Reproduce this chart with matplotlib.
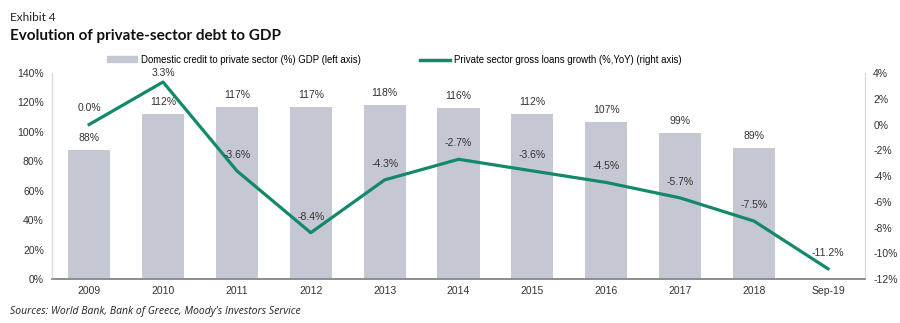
import numpy as np
import matplotlib
matplotlib.use('Agg')
import matplotlib.pyplot as plt
from matplotlib.patches import Patch
from matplotlib.lines import Line2D

# data
years = ['2009', '2010', '2011', '2012', '2013', '2014', '2015', '2016', '2017', '2018', 'Sep-19']
credit_gdp = [88, 112, 117, 117, 118, 116, 112, 107, 99, 89, np.nan]
loans_growth = [0.0, 3.3, -3.6, -8.4, -4.3, -2.7, -3.6, -4.5, -5.7, -7.5, -11.2]

bar_col = '#c5c8d2'
line_col = '#12896a'
txt_col = '#333333'

plt.rcParams['font.family'] = ['Liberation Sans', 'DejaVu Sans']

fig = plt.figure(figsize=(9, 3.23), dpi=100)
ax = fig.add_axes([0.058, 0.136, 0.903, 0.638])
ax2 = ax.twinx()

x = np.arange(len(years))

# bars on the left axis
ax.bar(x, credit_gdp, width=0.57, color=bar_col, zorder=1)
for xi, v in zip(x, credit_gdp):
    if not np.isnan(v):
        ax.annotate('%d%%' % v, (xi, v), xytext=(0, 5), textcoords='offset points',
                    ha='center', va='bottom', fontsize=7.5, color=txt_col)

ax.set_ylim(0, 140)
ax.set_yticks(np.arange(0, 141, 20))
ax.set_yticklabels(['%d%%' % t for t in np.arange(0, 141, 20)])
ax.set_xlim(-0.5, len(years) - 0.5)
ax.set_xticks(x)
ax.set_xticklabels(years)

# line on the right axis
ax2.plot(x, loans_growth, color=line_col, lw=2.3, zorder=3)
for i, (xi, v) in enumerate(zip(x, loans_growth)):
    off = 3 if i == 1 else 8
    ax2.annotate('%.1f%%' % v, (xi, v), xytext=(0, off), textcoords='offset points',
                 ha='center', va='bottom', fontsize=7.5, color=txt_col)
ax2.set_ylim(-12, 4)
ax2.set_yticks(np.arange(-12, 5, 2))
ax2.set_yticklabels(['%d%%' % t for t in np.arange(-12, 5, 2)])

for a in (ax, ax2):
    a.tick_params(length=0, labelsize=7.5, colors=txt_col, pad=6)
    a.spines['top'].set_visible(False)
    a.spines['left'].set_color('#d9d9d9')
    a.spines['right'].set_color('#d9d9d9')
    a.spines['bottom'].set_color('#8c8c8c')
    a.spines['bottom'].set_linewidth(1.2)
ax.tick_params(axis='x', pad=5)

handles = [Patch(color=bar_col), Line2D([0], [0], color=line_col, lw=2.5)]
labels = ['Domestic credit to private sector (%) GDP (left axis)',
          'Private sector gross loans growth (%,YoY) (right axis)']
fig.legend(handles, labels, loc='center', bbox_to_anchor=(0.438, 0.815), ncol=2,
           frameon=False, fontsize=6.9, handlelength=3.1, handleheight=0.55,
           columnspacing=6.2, handletextpad=0.4)

fig.text(0.011, 0.945, 'Exhibit 4', fontsize=8.5, family='Lato', color='#222222', va='center')
fig.text(0.011, 0.89, 'Evolution of private-sector debt to GDP', fontsize=11,
         family='Lato', weight='bold', color='#111111', va='center')
fig.text(0.011, 0.035, "Sources: World Bank, Bank of Greece, Moody's Investors Service", fontsize=7.5,
         family='Open Sans', style='italic', color='#222222', va='center')

plt.savefig('out.png', dpi=100)
